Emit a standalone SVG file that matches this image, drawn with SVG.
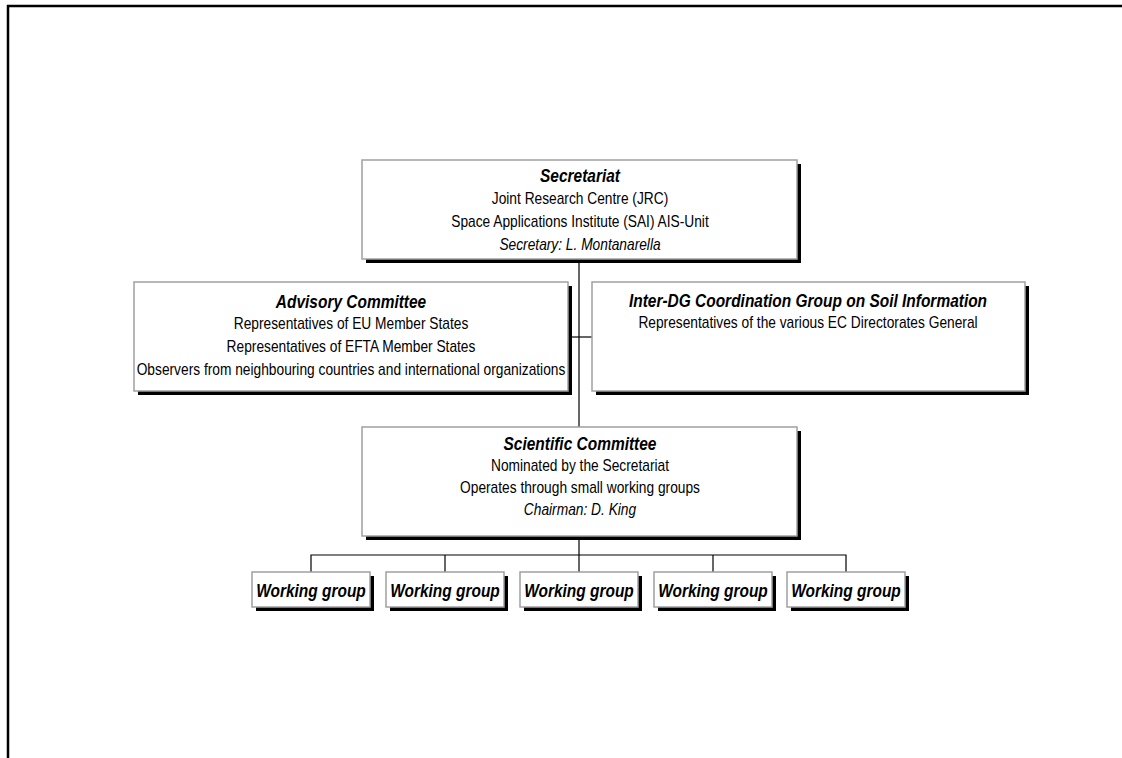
<svg xmlns="http://www.w3.org/2000/svg" width="1122" height="758" viewBox="0 0 1122 758">
<style>
.sh{fill:#000}
.bx{fill:#fff;stroke:#a0a0a0;stroke-width:1.5}
.t{font-family:"Liberation Sans",Arial,sans-serif;font-size:18px;font-weight:bold;font-style:italic;fill:#000;text-anchor:middle}
.b{font-family:"Liberation Sans",Arial,sans-serif;font-size:16px;fill:#000;text-anchor:middle}
.i{font-style:italic}
.c{fill:none;stroke:#000;stroke-width:1.2}
</style>
<rect width="1122" height="758" fill="#fff"/>
<g id="frame"><path d="M8,758 V6 H1122" fill="none" stroke="#000" stroke-width="2.5"/></g>
<g id="connectors">
<path class="c" d="M579,259 V427"/>
<path class="c" d="M568,337 H592"/>
<path class="c" d="M579,540 V555"/>
<path class="c" d="M311,572 V555 H846 V572"/>
<path class="c" d="M445,555 V572"/>
<path class="c" d="M579,555 V572"/>
<path class="c" d="M713,555 V572"/>
</g>
<g id="secretariat">
<rect class="sh" x="366" y="164" width="435" height="99"/>
<rect class="bx" x="362" y="160" width="435" height="99"/>
<text class="t" transform="translate(580,182) scale(0.86,1)">Secretariat</text>
<text class="b" transform="translate(580,204) scale(0.86,1)">Joint Research Centre (JRC)</text>
<text class="b" transform="translate(580,227) scale(0.86,1)">Space Applications Institute (SAI) AIS-Unit</text>
<text class="b i" transform="translate(580,250) scale(0.86,1)">Secretary: L. Montanarella</text>
</g>
<g id="advisory">
<rect class="sh" x="138" y="286" width="434" height="109"/>
<rect class="bx" x="134" y="282" width="434" height="109"/>
<text class="t" transform="translate(351,308) scale(0.86,1)">Advisory Committee</text>
<text class="b" transform="translate(351,329) scale(0.86,1)">Representatives of EU Member States</text>
<text class="b" transform="translate(351,352) scale(0.86,1)">Representatives of EFTA Member States</text>
<text class="b" transform="translate(351,375) scale(0.86,1)">Observers from neighbouring countries and international organizations</text>
</g>
<g id="interdg">
<rect class="sh" x="596" y="286" width="433" height="109"/>
<rect class="bx" x="592" y="282" width="433" height="109"/>
<text class="t" transform="translate(808,307) scale(0.86,1)">Inter-DG Coordination Group on Soil Information</text>
<text class="b" transform="translate(808,328) scale(0.86,1)">Representatives of the various EC Directorates General</text>
</g>
<g id="scientific">
<rect class="sh" x="366" y="431" width="435" height="109"/>
<rect class="bx" x="362" y="427" width="435" height="109"/>
<text class="t" transform="translate(580,450) scale(0.86,1)">Scientific Committee</text>
<text class="b" transform="translate(580,471) scale(0.86,1)">Nominated by the Secretariat</text>
<text class="b" transform="translate(580,493) scale(0.86,1)">Operates through small working groups</text>
<text class="b i" transform="translate(580,515) scale(0.86,1)">Chairman: D. King</text>
</g>
<g id="wg1">
<rect class="sh" x="256" y="576" width="118" height="35"/>
<rect class="bx" x="252" y="572" width="118" height="35"/>
<text class="t" transform="translate(311,597) scale(0.86,1)">Working group</text>
</g>
<g id="wg2">
<rect class="sh" x="390" y="576" width="118" height="35"/>
<rect class="bx" x="386" y="572" width="118" height="35"/>
<text class="t" transform="translate(445,597) scale(0.86,1)">Working group</text>
</g>
<g id="wg3">
<rect class="sh" x="524" y="576" width="118" height="35"/>
<rect class="bx" x="520" y="572" width="118" height="35"/>
<text class="t" transform="translate(579,597) scale(0.86,1)">Working group</text>
</g>
<g id="wg4">
<rect class="sh" x="658" y="576" width="118" height="35"/>
<rect class="bx" x="654" y="572" width="118" height="35"/>
<text class="t" transform="translate(713,597) scale(0.86,1)">Working group</text>
</g>
<g id="wg5">
<rect class="sh" x="791" y="576" width="118" height="35"/>
<rect class="bx" x="787" y="572" width="118" height="35"/>
<text class="t" transform="translate(846,597) scale(0.86,1)">Working group</text>
</g>
</svg>
